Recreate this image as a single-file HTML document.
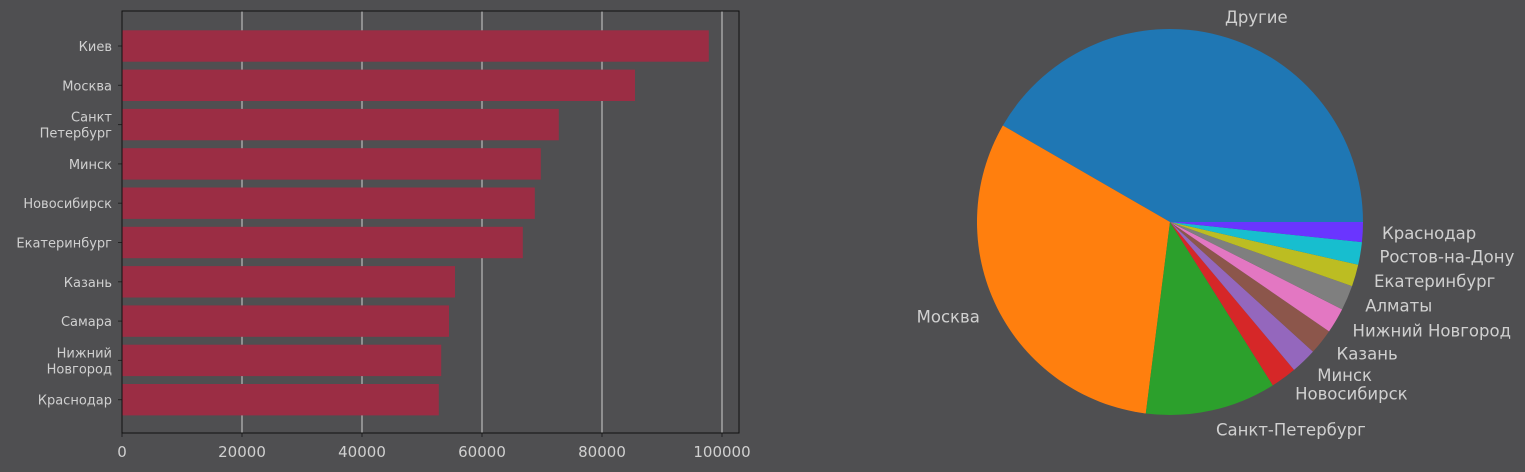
<!DOCTYPE html>
<html><head><meta charset="utf-8"><style>
html,body{margin:0;padding:0;background:#4f4f51;}
svg{display:block;font-family:"DejaVu Sans","Liberation Sans",sans-serif;}
</style></head><body>
<svg id="c" width="1525" height="472"></svg>
<script>
const barCities = ["Киев","Москва","Санкт\nПетербург","Минск","Новосибирск","Екатеринбург","Казань","Самара","Нижний\nНовгород","Краснодар"];
const barValues = [97800,85500,72800,69800,68800,66800,55500,54500,53200,52800];
const xTicks = [0,20000,40000,60000,80000,100000];
const pieLabels = ["Другие","Москва","Санкт-Петербург","Новосибирск","Минск","Казань","Нижний Новгород","Алматы","Екатеринбург","Ростов-на-Дону","Краснодар"];
const pieValues = [150,112.8,39.4,7.8,7.8,7.7,7.6,7.5,6.6,6.8,6.0];
const pieColors = ["#1f77b4","#ff7f0e","#2ca02c","#d62728","#9467bd","#8c564b","#e377c2","#7f7f7f","#bcbd22","#17becf","#6a35ff"];

const NS="http://www.w3.org/2000/svg";
const svg=document.getElementById('c');
function mk(t,a,p){const e=document.createElementNS(NS,t);for(const k in a)e.setAttribute(k,a[k]);(p||svg).appendChild(e);return e;}
const L=122,R=739,T=11,B=433;
const xs=v=>L+v*0.006;
const rowH=39.3, y0=46;
const ys=i=>y0+i*rowH;
const axBg=mk('rect',{x:L,y:T,width:R-L,height:B-T,fill:'#4f4f51'});


xTicks.forEach(t=>{
  const g=mk('line',{x1:xs(t),x2:xs(t),y1:T,y2:B,stroke:'#f0f0f0','stroke-width':0.8});
  
  
  mk('line',{x1:xs(t),x2:xs(t),y1:B,y2:B+4,stroke:'#222','stroke-width':1});
  const tx=mk('text',{x:xs(t),y:B+24,'text-anchor':'middle','font-size':15,fill:'#d0d0d0'});
  tx.textContent=t;
  
  
});
barValues.forEach((v,i)=>{
  const r=mk('rect',{x:L,y:ys(i)-15.7,width:xs(v)-L,height:31.4,fill:'#9b2d44'});
  
  
  mk('line',{x1:L-4,x2:L,y1:ys(i),y2:ys(i),stroke:'#222','stroke-width':1});
  const lines=barCities[i].split('\n');
  const tx=mk('text',{x:112,'text-anchor':'end','font-size':13,fill:'#d0d0d0'});
  
  
  lines.forEach((ln,j)=>{const s=mk('tspan',{x:112,y:ys(i)+5+(j-(lines.length-1)/2)*16},tx);s.textContent=ln;});
});
const fr=mk('rect',{x:L,y:T,width:R-L,height:B-T,fill:'none',stroke:'#111','stroke-width':1});


const cx=1170,cy=222,rad=193;
const tot=pieValues.reduce((a,b)=>a+b,0);
let a0=0;
pieValues.forEach((v,i)=>{
  const a1=a0+v/tot*2*Math.PI;
  const p0=[cx+rad*Math.cos(a0),cy-rad*Math.sin(a0)],p1=[cx+rad*Math.cos(a1),cy-rad*Math.sin(a1)];
  const large=(a1-a0)>Math.PI?1:0;
  const p=mk('path',{d:`M${cx},${cy}L${p0[0]},${p0[1]}A${rad},${rad} 0 ${large} 0 ${p1[0]},${p1[1]}Z`,fill:pieColors[i]});
  
  
  const am=(a0+a1)/2;
  const lx=cx+1.1*rad*Math.cos(am),ly=cy-1.1*rad*Math.sin(am);
  const tx=mk('text',{x:lx,y:ly+6,'text-anchor':Math.cos(am)>=0?'start':'end','font-size':16.5,fill:'#d0d0d0'});
  tx.textContent=pieLabels[i];
  
  
  a0=a1;
});
</script>
</body></html>
